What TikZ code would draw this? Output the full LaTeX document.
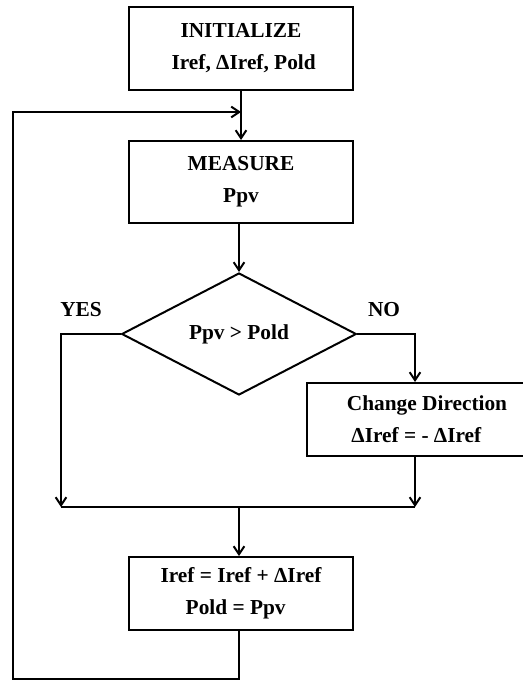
\documentclass[tikz,border=0pt]{standalone}
\usepackage{fontspec}
\setmainfont{Liberation Serif}
\usetikzlibrary{arrows.meta,shapes.geometric,positioning,calc}

\begin{document}
\begin{tikzpicture}[x=0.75pt,y=-0.75pt,
	font=\fontsize{16}{24}\selectfont\bfseries,
	blk/.style={draw,line width=1.5pt,rectangle,minimum width=168pt,inner sep=0pt,align=center},
	cond/.style={draw,line width=1.5pt,diamond,minimum width=176pt,minimum height=91.5pt,inner sep=0pt},
	flow/.style={line width=1.5pt,-{Straight Barb[length=6pt,width=8pt]}}]
		\clip (0,0) rectangle (523,681);
		% steps
		\node [blk,minimum height=62pt] (init) at (241,48.5)	{INITIALIZE\\ \ Iref, ΔIref, Pold};
		\node [blk,minimum height=61.5pt] (meas) at (241,182)	{MEASURE\\ Ppv};
		\node [cond] (dec) at (239,334)		{Ppv > Pold};
		\node [blk,minimum height=54.75pt,minimum width=180pt,anchor=west] (chg) at (306,419.5)	{Change Direction\\ ΔIref = - ΔIref\ \ \ \ \ };
		\node [blk,minimum height=54.75pt] (upd) at (241,593.5)	{Iref = Iref + ΔIref\\ Pold = Ppv\ \ \ };
		\node (yes) at (81,310)		{YES};
		\node (no) at (384,310)		{NO};
		% joins
		\coordinate (jn) at (241,112);
		\coordinate (cx) at (415,0);
		\coordinate (ljoin) at (61,507);
		\coordinate (rjoin) at (cx |- ljoin);
		\coordinate (mjoin) at (dec.south |- ljoin);
		\coordinate (lb) at (13,679);
		% connectors
		\draw [flow] (init) -- (meas);
		\draw [flow] (meas.south -| dec.north) -- (dec.north);
		\draw [flow] (dec.west) -| (ljoin);
		\draw [flow] (dec.east) -| (chg.north -| cx);
		\draw [flow] (chg.south -| cx) -- (rjoin);
		\draw [line width=1.5pt] (ljoin) -- (rjoin);
		\draw [flow] (mjoin) -- (upd.north -| mjoin);
		\draw [flow] (upd.south -| mjoin) |- (lb) |- (jn);
\end{tikzpicture}
\end{document}
